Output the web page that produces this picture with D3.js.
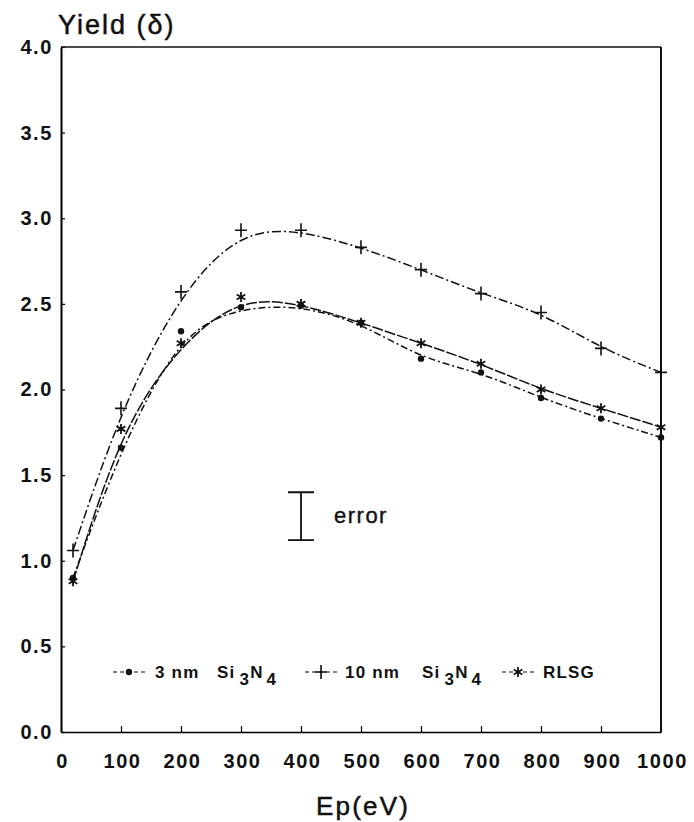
<!DOCTYPE html>
<html>
<head>
<meta charset="utf-8">
<script src="https://cdn.jsdelivr.net/npm/d3@7"></script>
<style>
  body { margin: 0; background: #fff; }
  svg { display: block; }
  .tick text { font-family: "Liberation Sans", Arial, sans-serif; font-weight: bold; font-size: 20px; letter-spacing: 1.6px; fill: #111; }
</style>
</head>
<body>
<div id="canvas"></div>
<script>
var width = 694;
var height = 822;

// data
var energies = [20, 100, 200, 300, 400, 500, 600, 700, 800, 900, 1000];
var yield3nm = [0.90, 1.66, 2.34, 2.48, 2.49, 2.39, 2.18, 2.10, 1.95, 1.83, 1.72];
var yield10nm = [1.06, 1.89, 2.57, 2.93, 2.93, 2.83, 2.70, 2.56, 2.45, 2.24, 2.10];
var yieldRLSG = [0.88, 1.77, 2.27, 2.54, 2.50, 2.39, 2.27, 2.15, 2.00, 1.89, 1.78];
var xTicks = [0, 100, 200, 300, 400, 500, 600, 700, 800, 900, 1000];
var yTicks = [0, 0.5, 1.0, 1.5, 2.0, 2.5, 3.0, 3.5, 4.0];
var errorBar = { e: 400, lo: 1.12, hi: 1.40 };

var svg = d3.select("#canvas").append("svg")
      .attr("width", width)
      .attr("height", height)

var plotLeft = 61, plotRight = 661, plotTop = 47, plotBottom = 732;

var x = d3.scaleLinear().domain([0, 1000]).range([plotLeft, plotRight]);
var y = d3.scaleLinear().domain([0, 4]).range([plotBottom, plotTop]);

// axes, ticks pointing inward
var yAxis = svg.append("g")
    .attr("transform", "translate(" + plotLeft + ",0)")
    .call(d3.axisLeft(y).tickValues(yTicks).tickSize(-4).tickSizeOuter(0)
      .tickPadding(8).tickFormat(d3.format(".1f")));
var xAxis = svg.append("g")
    .attr("transform", "translate(0," + plotBottom + ")")
    .call(d3.axisBottom(x).tickValues(xTicks).tickSize(-6).tickSizeOuter(0)
      .tickPadding(22).tickFormat(d3.format("d")));

yAxis.select(".domain").attr("stroke-width", 2);
xAxis.select(".domain").attr("stroke-width", 1.6);
svg.selectAll(".tick line").attr("stroke-width", 1.2);
xAxis.selectAll(".tick text").attr("dx", 1);

// top and right edges of the frame
svg.append("line")
    .attr("x1", plotLeft).attr("x2", plotRight)
    .attr("y1", plotTop).attr("y2", plotTop)
    .attr("stroke", "#111").attr("stroke-width", 1.5);
svg.append("line")
    .attr("x1", plotRight).attr("x2", plotRight)
    .attr("y1", plotTop).attr("y2", plotBottom)
    .attr("stroke", "#111").attr("stroke-width", 2);

// axis titles
svg.append("text")
    .attr("x", 58).attr("y", 34)
    .attr("font-family", "Liberation Sans, Arial, sans-serif")
    .attr("font-size", 27)
    .attr("letter-spacing", 2)
    .attr("fill", "#111")
    .attr("stroke", "#111").attr("stroke-width", 0.5)
    .text("Yield (δ)");
svg.append("text")
    .attr("x", (plotLeft + plotRight) / 2 + 2).attr("y", 815)
    .attr("text-anchor", "middle")
    .attr("font-family", "Liberation Sans, Arial, sans-serif")
    .attr("font-size", 26)
    .attr("letter-spacing", 2.2)
    .attr("fill", "#111")
    .attr("stroke", "#111").attr("stroke-width", 0.5)
    .text("Ep(eV)");

var line = d3.line()
    .x(d => x(d[0]))
    .y(d => y(d[1]))
    .curve(d3.curveBasis);

var series = [
  { name: "3 nm", values: yield3nm, dash: "7,3,2,3", marker: "dot" },
  { name: "10 nm", values: yield10nm, dash: "9,3,2,3", marker: "plus" },
  { name: "RLSG", values: yieldRLSG, dash: "11,2", marker: "star" }
];

function drawMarker(g, kind) {
  if (kind == "dot") {
    g.append("circle").attr("r", 3.2).attr("fill", "#111");
  } else if (kind == "plus") {
    g.append("path").attr("d", "M-6,0H6M0,-7V7")
      .attr("stroke", "#111").attr("stroke-width", 1.6).attr("fill", "none");
  } else {
    g.append("path").attr("d", d3.symbol(d3.symbolAsterisk).size(70)())
      .attr("stroke", "#111").attr("stroke-width", 1.8).attr("fill", "none");
  }
}

series.forEach(function(s) {
  var pts = energies.map((e, i) => [e, s.values[i]]);
  svg.append("path")
    .attr("d", line(pts))
    .attr("fill", "none")
    .attr("stroke", "#111")
    .attr("stroke-width", 1.5)
    .attr("stroke-dasharray", s.dash);
  pts.forEach(function(p) {
    var g = svg.append("g").attr("transform", "translate(" + x(p[0]) + "," + y(p[1]) + ")");
    drawMarker(g, s.marker);
  });
});

// error bar
var ex = x(errorBar.e);
svg.append("path")
    .attr("d", "M" + (ex - 13) + "," + y(errorBar.hi) + "H" + (ex + 13) +
               "M" + ex + "," + y(errorBar.hi) + "V" + y(errorBar.lo) +
               "M" + (ex - 13) + "," + y(errorBar.lo) + "H" + (ex + 13))
    .attr("stroke", "#111").attr("stroke-width", 1.8).attr("fill", "none");
svg.append("text")
    .attr("x", ex + 33).attr("y", y((errorBar.lo + errorBar.hi) / 2) + 7)
    .attr("font-family", "Liberation Sans, Arial, sans-serif")
    .attr("font-size", 22)
    .attr("letter-spacing", 1.5)
    .attr("fill", "#111")
    .attr("stroke", "#111").attr("stroke-width", 0.4)
    .text("error");

// legend
var legY = 672;
var legend = [
  { s: series[0], x0: 113, label: 155, si: 217 },
  { s: series[1], x0: 305, label: 345, si: 422 },
  { s: series[2], x0: 502, label: 543, si: null }
];
legend.forEach(function(l) {
  svg.append("line")
    .attr("x1", l.x0).attr("x2", l.x0 + 32)
    .attr("y1", legY).attr("y2", legY)
    .attr("stroke", "#111").attr("stroke-width", 1.2)
    .attr("stroke-dasharray", "4,3");
  var g = svg.append("g").attr("transform", "translate(" + (l.x0 + 16) + "," + legY + ")");
  drawMarker(g, l.s.marker);
  var t = svg.append("text")
    .attr("x", l.label).attr("y", legY + 6)
    .attr("font-family", "Liberation Sans, Arial, sans-serif")
    .attr("font-weight", "bold")
    .attr("font-size", 17)
    .attr("letter-spacing", 1.2)
    .attr("fill", "#111");
  t.append("tspan").text(l.s.name);
  if (l.si != null) {
    t.append("tspan").attr("x", l.si).text("Si");
    t.append("tspan").attr("dx", 4).attr("dy", 7).text("3");
    t.append("tspan").attr("dy", -7).text("N");
    t.append("tspan").attr("dx", 3).attr("dy", 7).text("4");
  }
});
</script>
</body>
</html>
